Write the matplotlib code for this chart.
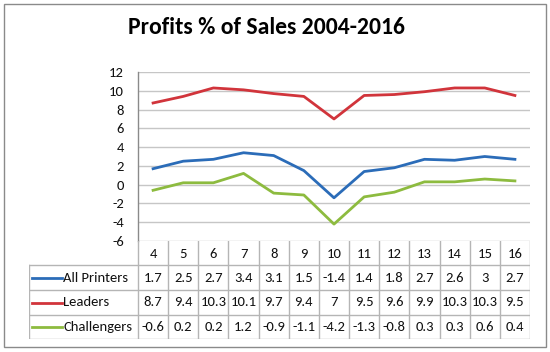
import matplotlib
matplotlib.use("Agg")
import matplotlib.pyplot as plt
from matplotlib.patches import Rectangle
from matplotlib.lines import Line2D

plt.rcParams['font.family'] = ['Carlito', 'Lato', 'DejaVu Sans']

categories = ["4", "5", "6", "7", "8", "9", "10", "11", "12", "13", "14", "15", "16"]
series_names = ["All Printers", "Leaders", "Challengers"]
all_printers = [1.7, 2.5, 2.7, 3.4, 3.1, 1.5, -1.4, 1.4, 1.8, 2.7, 2.6, 3, 2.7]
leaders = [8.7, 9.4, 10.3, 10.1, 9.7, 9.4, 7, 9.5, 9.6, 9.9, 10.3, 10.3, 9.5]
challengers = [-0.6, 0.2, 0.2, 1.2, -0.9, -1.1, -4.2, -1.3, -0.8, 0.3, 0.3, 0.6, 0.4]
yticks = [-6, -4, -2, 0, 2, 4, 6, 8, 10, 12]
title = "Profits % of Sales 2004-2016"

series = [all_printers, leaders, challengers]
colors = ["#2b6cb8", "#d1343b", "#8dbb3f"]
grid_c = "#c6c6c6"
text_c = "#111111"
fs = 10.5

W, H = 550, 352
fig = plt.figure(figsize=(W / 100, H / 100), dpi=100)

def fx(px):
    return px / W

def fy(py):
    return 1 - py / H

# outer border
fig.patches.append(Rectangle((fx(4), fy(347)), fx(542), 343 / H, transform=fig.transFigure,
                             fill=False, edgecolor="#8a8a8a", linewidth=1.0))

fig.text(fx(266), fy(27), title, ha="center", va="center", fontsize=17,
         fontweight="bold", color="#000000")

# plot area
L, R, T, B = 138, 530, 72, 241
ax = fig.add_axes([fx(L), fy(B), (R - L) / W, (B - T) / H])
n = len(categories)
xs = list(range(n))
for vals, c in zip(series, colors):
    ax.plot(xs, vals, color=c, linewidth=2.0, solid_joinstyle="round")
ax.set_xlim(-0.5, n - 0.5)
ax.set_ylim(-6, 12)
ax.set_yticks(yticks)
ax.set_yticklabels([str(t) for t in yticks], fontsize=fs, color=text_c)
ax.set_xticks([])
ax.tick_params(axis="y", length=0, pad=10)
for t in yticks:
    ax.axhline(t, color=grid_c, linewidth=1.0, zorder=0)
for s in ["top", "right", "bottom"]:
    ax.spines[s].set_visible(False)
ax.spines["left"].set_color("#8a8a8a")
ax.spines["left"].set_linewidth(1.0)

# table area
TL, TT, TB = 29, 241, 339
col_w = (R - L) / n
x0 = -0.5 - (L - TL) / col_w
tax = fig.add_axes([fx(TL), fy(TB), (R - TL) / W, (TB - TT) / H])
tax.set_xlim(x0, n - 0.5)
tax.set_ylim(TB, TT)
tax.axis("off")
rows = [241, 265, 290, 315, 339]

def px2x(px):
    return x0 + (px - TL) / col_w

lc = "#b5b5b5"
for i in range(n + 1):
    tax.add_line(Line2D([-0.5 + i, -0.5 + i], [rows[0], rows[-1]], color=lc, linewidth=1.0))
tax.add_line(Line2D([x0, x0], [rows[1], rows[-1]], color=lc, linewidth=1.0))
for r in rows[1:]:
    tax.add_line(Line2D([x0, n - 0.5], [r, r], color=lc, linewidth=1.0))

for i, cat in enumerate(categories):
    tax.text(i, (rows[0] + rows[1]) / 2 + 1, cat, ha="center", va="center", fontsize=fs, color=text_c)

for k, (name, vals, c) in enumerate(zip(series_names, series, colors)):
    yc = (rows[k + 1] + rows[k + 2]) / 2
    tax.add_line(Line2D([px2x(32), px2x(62)], [yc, yc], color=c, linewidth=2.0))
    tax.text(px2x(63), yc, name, ha="left", va="center", fontsize=fs, color=text_c)
    for i, v in enumerate(vals):
        tax.text(i, yc, f"{v:g}", ha="center", va="center", fontsize=fs, color=text_c)

fig.savefig("out.png", dpi=100)
